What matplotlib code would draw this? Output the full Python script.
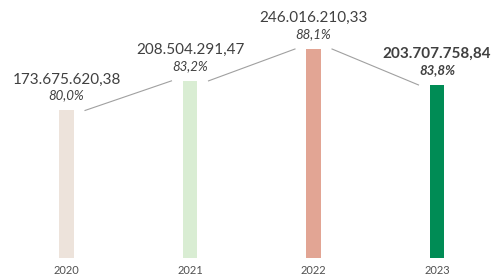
import numpy as np
import matplotlib
matplotlib.use('Agg')
import matplotlib.pyplot as plt

# Datos
years = ['2020', '2021', '2022', '2023']
values = [173675620.38, 208504291.47, 246016210.33, 203707758.84]
value_labels = ['173.675.620,38', '208.504.291,47', '246.016.210,33', '203.707.758,84']
pct_labels = ['80,0%', '83,2%', '88,1%', '83,8%']
colors = ['#EDE3DB', '#D9EDD3', '#E2A594', '#008C55']

plt.rcParams['font.family'] = ['Lato', 'DejaVu Sans']

fig = plt.figure(figsize=(4.99, 2.75), dpi=100)
ax = fig.add_axes([0, 17 / 275, 1, 258 / 275])

x = np.arange(len(years))
v = np.array(values) / 1e6
ax.bar(x, v, width=0.12, color=colors)

# lineas entre barras
gap = 0.15
for i in range(len(x) - 1):
	ax.plot([x[i] + gap, x[i + 1] - gap], [v[i], v[i + 1]], color='#A0A0A0', lw=0.8)

# etiquetas
for i in range(len(x)):
	last = i == len(x) - 1
	ax.annotate(value_labels[i], (x[i], v[i]), xytext=(0, 27), textcoords='offset pixels',
				ha='center', va='baseline', fontsize=11, color='#404040',
				fontweight='bold' if last else 'normal')
	ax.annotate(pct_labels[i], (x[i], v[i]), xytext=(0, 11), textcoords='offset pixels',
				ha='center', va='baseline', fontsize=9.5, color='#404040', style='italic',
				fontweight='bold' if last else 'normal')

ax.set_xlim(-66.5 / 123.5, -66.5 / 123.5 + 499 / 123.5)
ax.set_ylim(0, 246.016 * 258 / 209)
ax.set_xticks(x)
ax.set_xticklabels(years, fontsize=8, color='#505050')
ax.tick_params(axis='x', length=0, pad=5)
ax.set_yticks([])
for s in ax.spines.values():
	s.set_visible(False)

plt.savefig('out.png', dpi=100)
